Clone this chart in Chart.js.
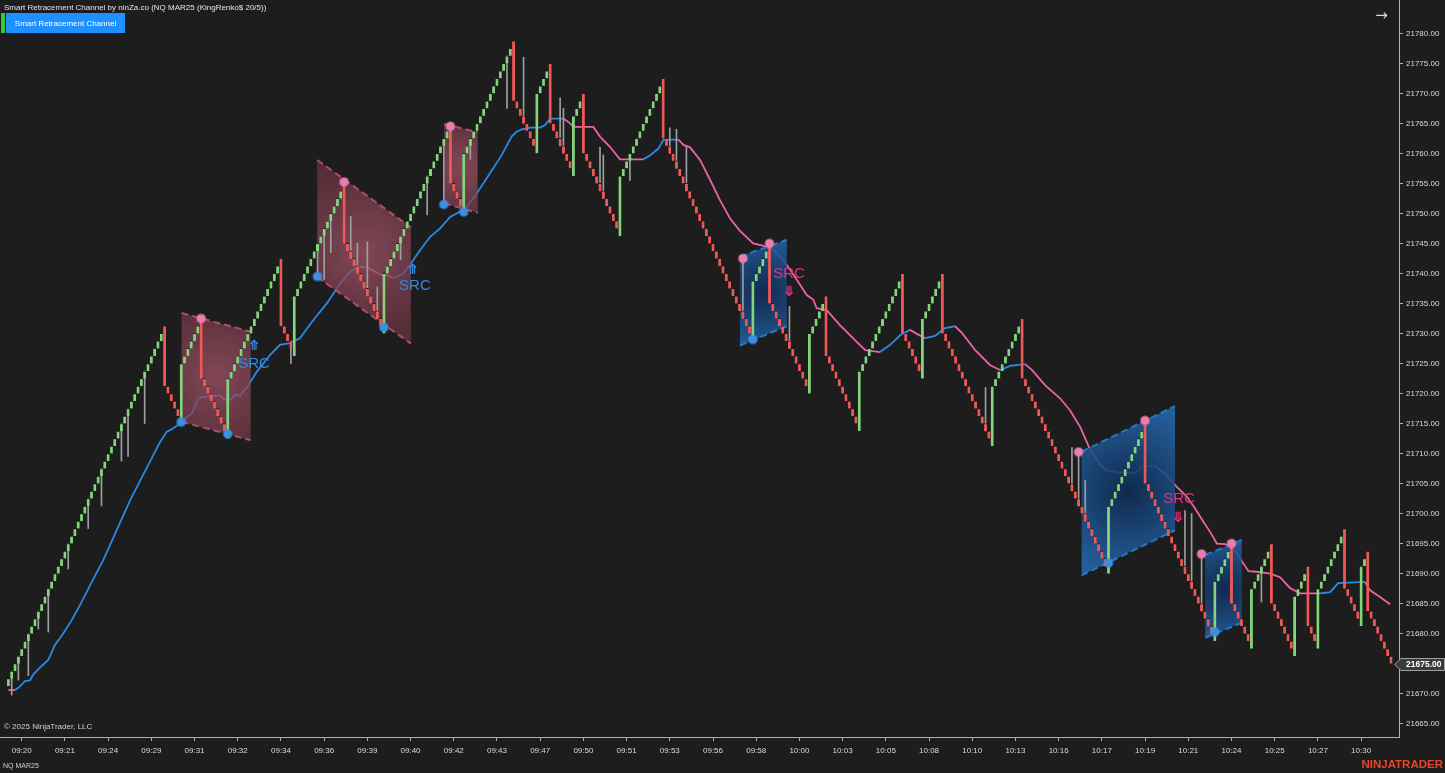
<!DOCTYPE html>
<html>
<head>
<meta charset="utf-8">
<title>Smart Retracement Channel</title>
<script src="https://cdn.jsdelivr.net/npm/chart.js@4.4.1/dist/chart.umd.min.js"></script>
<style>
html,body{margin:0;padding:0;background:#1d1d1d;overflow:hidden;}
canvas{display:block;}
</style>
</head>
<body>
<canvas id="chart" width="1445" height="773"></canvas>
<script>
// ---------------- DATA ----------------
const timeLabels = ['09:20','09:21','09:24','09:29','09:31','09:32','09:34','09:36','09:39','09:40','09:42','09:43','09:47','09:50','09:51','09:53','09:56','09:58','10:00','10:03','10:05','10:08','10:10','10:13','10:16','10:17','10:19','10:21','10:24','10:25','10:27','10:30'];
const labelBars = [4,17,30,43,56,69,82,95,108,121,134,147,160,173,186,199,212,225,238,251,264,277,290,303,316,329,342,355,368,381,394,407];
const priceTicks = [21665,21670,21675,21680,21685,21690,21695,21700,21705,21710,21715,21720,21725,21730,21735,21740,21745,21750,21755,21760,21765,21770,21775,21780];

// Renko bars (index = bar number)
const opens = [
21671.25,21672.5,21673.75,21675,21676.25,21677.5,21678.75,21680,21681.25,21682.5,21683.75,21685,21686.25,21687.5,21688.75,21690,21691.25,21692.5,21693.75,21695,21696.25,21697.5,21698.75,21700,21701.25,21702.5,21703.75,21705,21706.25,21707.5,21708.75,21710,21711.25,21712.5,21713.75,21715,21716.25,21717.5,21718.75,21720,21721.25,21722.5,21723.75,21725,21726.25,21727.5,21728.75,
21731.25,21721.25,21720,21718.75,21717.5,21715,21725,21726.25,21727.5,21728.75,21730,21732.5,21722.5,21721.25,21720,21718.75,21717.5,21716.25,21715,21712.5,
21722.5,21723.75,21725,21726.25,21727.5,21728.75,21730,21731.25,21732.5,21733.75,21735,21736.25,21737.5,21738.75,21740,21742.5,21731.25,21730,21728.75,21726.25,
21736.25,21737.5,21738.75,21740,21741.25,21742.5,21743.75,21745,21746.25,21747.5,21748.75,21750,21751.25,21752.5,21755,21745,21743.75,21742.5,21741.25,21740,21738.75,21737.5,21736.25,21735,21733.75,21732.5,21730,
21740,21741.25,21742.5,21743.75,21745,21746.25,21747.5,21748.75,21750,21751.25,21752.5,21753.75,21755,21756.25,21757.5,21758.75,21760,21761.25,21762.5,21765,21755,21753.75,21752.5,21750,
21760,21761.25,21762.5,21763.75,21765,21766.25,21767.5,21768.75,21770,21771.25,21772.5,21773.75,21775,21776.25,21778.75,21768.75,21767.5,21766.25,21765,21763.75,21762.5,21760,21770,21771.25,21772.5,21775,
21765,21763.75,21762.5,21761.25,21760,21758.75,21756.25,21766.25,21767.5,21770,21760,21758.75,21757.5,21756.25,21755,21753.75,21752.5,21751.25,21750,21748.75,21746.25,
21756.25,21757.5,21758.75,21760,21761.25,21762.5,21763.75,21765,21766.25,21767.5,21768.75,21770,21772.5,
21762.5,21761.25,21760,21758.75,21757.5,21756.25,21755,21753.75,21752.5,21751.25,21750,21748.75,21747.5,21746.25,21745,21743.75,21742.5,21741.25,21740,21738.75,21737.5,21736.25,21735,21733.75,21732.5,21731.25,21728.75,
21738.75,21740,21741.25,21742.5,21745,21735,21733.75,21732.5,21731.25,21730,21728.75,21727.5,21726.25,21725,21723.75,21722.5,21720,
21730,21731.25,21732.5,21733.75,21736.25,21726.25,21725,21723.75,21722.5,21721.25,21720,21718.75,21717.5,21716.25,21713.75,
21723.75,21725,21726.25,21727.5,21728.75,21730,21731.25,21732.5,21733.75,21735,21736.25,21737.5,21740,21730,21728.75,21727.5,21726.25,21725,21722.5,
21732.5,21733.75,21735,21736.25,21737.5,21740,21730,21728.75,21727.5,21726.25,21725,21723.75,21722.5,21721.25,21720,21718.75,21717.5,21716.25,21715,21713.75,21711.25,
21721.25,21722.5,21723.75,21725,21726.25,21727.5,21728.75,21730,21732.5,
21722.5,21721.25,21720,21718.75,21717.5,21716.25,21715,21713.75,21712.5,21711.25,21710,21708.75,21707.5,21706.25,21705,21703.75,21702.5,21701.25,21700,21698.75,21697.5,21696.25,21695,21693.75,21692.5,21690,
21701.25,21702.5,21703.75,21705,21706.25,21707.5,21708.75,21710,21711.25,21712.5,21715,
21705,21703.75,21702.5,21701.25,21700,21698.75,21697.5,21696.25,21695,21693.75,21692.5,21691.25,21690,21688.75,21687.5,21686.25,21685,21683.75,21682.5,21681.25,21678.75,
21688.75,21690,21691.25,21692.5,21695,21685,21683.75,21682.5,21681.25,21680,21677.5,
21687.5,21688.75,21690,21691.25,21692.5,21695,21685,21683.75,21682.5,21681.25,21680,21678.75,21676.25,
21686.25,21687.5,21688.75,21691.25,21681.25,21680,21677.5,21687.5,21688.75,21690,21691.25,21692.5,21693.75,21695,21697.5,
21687.5,21686.25,21685,21683.75,21681.25,21691.25,21693.75,21683.75,21682.5,21681.25,21680,21678.75,21677.5,21676.25
];
const closes = [
21672.5,21673.75,21675,21676.25,21677.5,21678.75,21680,21681.25,21682.5,21683.75,21685,21686.25,21687.5,21688.75,21690,21691.25,21692.5,21693.75,21695,21696.25,21697.5,21698.75,21700,21701.25,21702.5,21703.75,21705,21706.25,21707.5,21708.75,21710,21711.25,21712.5,21713.75,21715,21716.25,21717.5,21718.75,21720,21721.25,21722.5,21723.75,21725,21726.25,21727.5,21728.75,21730,
21721.25,21720,21718.75,21717.5,21716.25,21725,21726.25,21727.5,21728.75,21730,21731.25,21722.5,21721.25,21720,21718.75,21717.5,21716.25,21715,21713.75,21722.5,
21723.75,21725,21726.25,21727.5,21728.75,21730,21731.25,21732.5,21733.75,21735,21736.25,21737.5,21738.75,21740,21741.25,21731.25,21730,21728.75,21727.5,21736.25,
21737.5,21738.75,21740,21741.25,21742.5,21743.75,21745,21746.25,21747.5,21748.75,21750,21751.25,21752.5,21753.75,21745,21743.75,21742.5,21741.25,21740,21738.75,21737.5,21736.25,21735,21733.75,21732.5,21731.25,21740,
21741.25,21742.5,21743.75,21745,21746.25,21747.5,21748.75,21750,21751.25,21752.5,21753.75,21755,21756.25,21757.5,21758.75,21760,21761.25,21762.5,21763.75,21755,21753.75,21752.5,21751.25,21760,
21761.25,21762.5,21763.75,21765,21766.25,21767.5,21768.75,21770,21771.25,21772.5,21773.75,21775,21776.25,21777.5,21768.75,21767.5,21766.25,21765,21763.75,21762.5,21761.25,21770,21771.25,21772.5,21773.75,21765,
21763.75,21762.5,21761.25,21760,21758.75,21757.5,21766.25,21767.5,21768.75,21760,21758.75,21757.5,21756.25,21755,21753.75,21752.5,21751.25,21750,21748.75,21747.5,21756.25,
21757.5,21758.75,21760,21761.25,21762.5,21763.75,21765,21766.25,21767.5,21768.75,21770,21771.25,21762.5,
21761.25,21760,21758.75,21757.5,21756.25,21755,21753.75,21752.5,21751.25,21750,21748.75,21747.5,21746.25,21745,21743.75,21742.5,21741.25,21740,21738.75,21737.5,21736.25,21735,21733.75,21732.5,21731.25,21730,21738.75,
21740,21741.25,21742.5,21743.75,21735,21733.75,21732.5,21731.25,21730,21728.75,21727.5,21726.25,21725,21723.75,21722.5,21721.25,21730,
21731.25,21732.5,21733.75,21735,21726.25,21725,21723.75,21722.5,21721.25,21720,21718.75,21717.5,21716.25,21715,21723.75,
21725,21726.25,21727.5,21728.75,21730,21731.25,21732.5,21733.75,21735,21736.25,21737.5,21738.75,21730,21728.75,21727.5,21726.25,21725,21723.75,21732.5,
21733.75,21735,21736.25,21737.5,21738.75,21730,21728.75,21727.5,21726.25,21725,21723.75,21722.5,21721.25,21720,21718.75,21717.5,21716.25,21715,21713.75,21712.5,21721.25,
21722.5,21723.75,21725,21726.25,21727.5,21728.75,21730,21731.25,21722.5,
21721.25,21720,21718.75,21717.5,21716.25,21715,21713.75,21712.5,21711.25,21710,21708.75,21707.5,21706.25,21705,21703.75,21702.5,21701.25,21700,21698.75,21697.5,21696.25,21695,21693.75,21692.5,21691.25,21701.25,
21702.5,21703.75,21705,21706.25,21707.5,21708.75,21710,21711.25,21712.5,21713.75,21705,
21703.75,21702.5,21701.25,21700,21698.75,21697.5,21696.25,21695,21693.75,21692.5,21691.25,21690,21688.75,21687.5,21686.25,21685,21683.75,21682.5,21681.25,21680,21688.75,
21690,21691.25,21692.5,21693.75,21685,21683.75,21682.5,21681.25,21680,21678.75,21687.5,
21688.75,21690,21691.25,21692.5,21693.75,21685,21683.75,21682.5,21681.25,21680,21678.75,21677.5,21686.25,
21687.5,21688.75,21690,21681.25,21680,21678.75,21687.5,21688.75,21690,21691.25,21692.5,21693.75,21695,21696.25,21687.5,
21686.25,21685,21683.75,21682.5,21691.25,21692.5,21683.75,21682.5,21681.25,21680,21678.75,21677.5,21676.25,21675
];

// visible wick extremes (bar index, price reached by the wick)
const wickIdx = [1,3,6,9,12,18,24,28,34,36,41,85,93,95,97,103,105,108,111,118,126,131,139,150,155,166,167,178,179,187,199,201,204,221,235,294,320,322,324,354,356,359,377];
const wickVal = [21669.75,21672.25,21673,21680.75,21680.25,21690.75,21697.5,21701.25,21708.75,21709.5,21715,21725,21739.5,21739,21743.5,21749.5,21745,21745.25,21737.75,21742.25,21749.75,21751.5,21759,21767.5,21776,21769.25,21767.5,21761,21759.75,21755.5,21764.25,21764,21761,21742.5,21734.5,21721,21711,21710.25,21705.5,21700.5,21700,21693.25,21685.25];

// trailing line (bar position, value)
const maIdx = [0,2,3.5,5,6.5,7.5,10,12,14,16.5,
19,21.5,25.1,28.5,36.6,45.6,47.6,49.6,51.6,53.1,
55.2,57.1,58.2,63.7,64.7,66.7,68.2,69.7,71.9,74.7,
78.7,81.7,84.7,87.7,91.7,95.8,99.8,102.8,105.3,107.8,
110.3,112.3,114,115.8,118.8,120.8,123.9,126.9,129.9,132.9,
135.9,137.9,140.9,144.9,148.4,151.4,152.9,154.5,156.9,160,
161.5,163,167,169,170,176,178,181,184,191,
193.1,195.6,197.1,201.6,203.1,205.1,208.1,211.1,214.1,217.1,
220.1,224.1,227.2,230.2,232.7,235.2,238.2,240.2,242.2,243.2,
246.2,250.2,254.7,257.8,262.3,265.3,268.3,271.3,272.8,275.8,
278.8,281.8,284.8,286.9,290.9,295.4,298.4,301.4,305.9,308,
311.9,316.4,319.4,322.5,325.5,328.5,330.5,333.5,339,340,
341,345,346,348.5,351.6,354.6,357.1,359.6,361.6,363.6,
366.1,368.6,370.6,373.1,375.6,379.6,382.6,385.6,388.6,394.7,
397.7,400.1,408.2,409.7,412.7,415.7];
const maVal = [21670.6,21670.6,21671.2,21672.1,21672.2,21673.2,21674.6,21675.6,21678.1,21680,
21682.2,21684.7,21688.6,21692.2,21702.2,21711.9,21713.6,21714.2,21715,21715.8,
21716.7,21719.2,21719.4,21719.7,21719,21719,21719.7,21719.7,21721.1,21723.6,
21726.4,21728.1,21728.4,21729.2,21732.2,21735,21738.3,21740.3,21741.1,21741,
21740.3,21739.7,21739.7,21739.2,21740,21741.4,21743.9,21746.1,21747.5,21749.4,
21750.3,21751.1,21753.3,21756.7,21759.7,21762.8,21763.6,21764,21764.3,21764.3,
21764.7,21765.8,21765.8,21765,21764.4,21764.4,21762.8,21761.1,21759,21759,
21759.7,21760.8,21762.3,21762.3,21761.4,21761,21758.9,21755.6,21752.2,21749.2,
21747.1,21745,21744.6,21743.9,21742.5,21740.6,21738.1,21736.4,21735.6,21734.2,
21733.9,21731.4,21728.9,21727.2,21726.9,21728.1,21729.7,21730.6,21730.1,21729.2,
21729.6,21730.9,21731.2,21730.1,21727.2,21724.7,21723.9,21724.6,21724.9,21723.9,
21721.4,21719.2,21717.2,21714.4,21710.6,21708.1,21707.2,21706.9,21706.7,21707.2,
21707.8,21707.9,21707.5,21706.4,21704.4,21702.8,21700.8,21698.6,21696.9,21695,
21694.9,21694.2,21692.5,21690.4,21690.3,21690,21689.4,21687.6,21686.7,21686.7,
21686.9,21688.4,21688.6,21687.2,21686.1,21684.9];

// swing points
const highDotIdx = [58,101,133,221,229,322,342,359,368];
const highDotVal = [21732.5,21755.25,21764.5,21742.5,21745,21710.25,21715.5,21693.25,21695];
const lowDotIdx = [52,66,93,113,131,137,224,331,363];
const lowDotVal = [21715.25,21713.25,21739.5,21731,21751.5,21750.25,21729,21691.75,21680.25];

// retracement channels (start bar, end bar, upper line start/end, lower line start/end)
const chKind = ['bear','bear','bear','bull','bull','bull'];
const chStart = [52.1,92.9,131.1,220.1,322.9,360.1];
const chEnd = [72.9,121.1,141.2,234.2,351.0,371.1];
const chTop0 = [21733.4,21758.9,21764.9,21742.8,21710.3,21693.1];
const chTop1 = [21730.3,21747.7,21763.5,21745.6,21717.9,21695.6];
const chBot0 = [21715.3,21739.4,21751.7,21728.0,21689.7,21679.3];
const chBot1 = [21712.2,21728.3,21750.1,21731.2,21697.2,21681.8];

// SRC signal labels
const sigKind = ['bull','bull','bear','bear'];
const sigIdx = [73.9,122.3,234.9,352.2];
const sigVal = [21725,21738.0,21740,21702.4];
const sigArrowIdx = [74,121.7,235,352];
const sigArrowVal = [21727.8,21740.5,21736.8,21699.2];

// ---------------- STYLE ----------------
const BG = '#1d1d1d';
const GREEN = '#84d47c';
const RED = '#f05858';
const WICK = '#9e9e9e';
const LINE_BLUE = '#2a8ae8';
const LINE_PINK = '#ec63a6';
const AXIS = '#b0b0b0';
const FONT = "'Liberation Sans', Arial, sans-serif";

const bodyData = closes.map((c, k) => ({ x: k, y: [opens[k], c] }));
const bodyColors = closes.map((c, k) => c > opens[k] ? GREEN : RED);
const wickData = wickIdx.map((k, j) => ({
  x: k,
  y: [Math.min(opens[k], closes[k], wickVal[j]), Math.max(opens[k], closes[k], wickVal[j])]
}));
const maData = maIdx.map((x, k) => ({ x: x, y: maVal[k] }));
const maColors = [];
(function () {
  let cur = LINE_PINK;
  for (let k = 0; k < maVal.length - 1; k++) {
    const d = maVal[k + 1] - maVal[k];
    if (d > 0) cur = LINE_BLUE; else if (d < 0) cur = LINE_PINK;
    maColors.push(cur);
  }
})();
const highDots = highDotIdx.map((x, k) => ({ x: x, y: highDotVal[k] }));
const lowDots = lowDotIdx.map((x, k) => ({ x: x, y: lowDotVal[k] }));

const overlay = {
  id: 'overlay',
  beforeDatasetDraw(chart, args) {
    if (args.index !== 1) return;
    const { ctx, chartArea: a, scales: { x, y } } = chart;
    ctx.save();
    ctx.beginPath();
    ctx.rect(a.left, a.top, a.right - a.left, a.bottom - a.top);
    ctx.clip();
    for (let k = 0; k < chStart.length; k++) {
      const x0 = x.getPixelForValue(chStart[k]), x1 = x.getPixelForValue(chEnd[k]);
      const t0 = y.getPixelForValue(chTop0[k]), t1 = y.getPixelForValue(chTop1[k]);
      const b0 = y.getPixelForValue(chBot0[k]), b1 = y.getPixelForValue(chBot1[k]);
      const bull = chKind[k] === 'bull';
      const cx = (x0 + x1) / 2, cy = (t0 + t1 + b0 + b1) / 4;
      const r = Math.max(x1 - x0, Math.abs(b0 - t0)) * 0.72;
      const g = ctx.createRadialGradient(cx, cy, 0, cx, cy, r);
      if (bull) {
        g.addColorStop(0, 'rgba(16,44,84,0.88)');
        g.addColorStop(1, 'rgba(38,108,180,0.85)');
      } else {
        g.addColorStop(0, 'rgba(160,84,104,0.78)');
        g.addColorStop(1, 'rgba(112,54,68,0.70)');
      }
      ctx.beginPath();
      ctx.moveTo(x0, t0); ctx.lineTo(x1, t1); ctx.lineTo(x1, b1); ctx.lineTo(x0, b0);
      ctx.closePath();
      ctx.fillStyle = g;
      ctx.fill();
      ctx.setLineDash([7, 4]);
      ctx.lineWidth = 2;
      ctx.strokeStyle = bull ? 'rgba(40,122,205,0.95)' : 'rgba(185,82,112,0.9)';
      ctx.beginPath(); ctx.moveTo(x0, t0); ctx.lineTo(x1, t1); ctx.stroke();
      ctx.beginPath(); ctx.moveTo(x0, b0); ctx.lineTo(x1, b1); ctx.stroke();
    }
    ctx.restore();
  },
  afterDatasetsDraw(chart) {
    const { ctx, scales: { x, y } } = chart;
    ctx.save();
    for (let k = 0; k < sigIdx.length; k++) {
      const bull = sigKind[k] === 'bull';
      const col = bull ? '#2c8ce8' : '#e8307f';
      ctx.fillStyle = col;
      ctx.textAlign = 'center';
      ctx.textBaseline = 'middle';
      ctx.font = "15px " + FONT;
      ctx.fillText('SRC', x.getPixelForValue(sigIdx[k]), y.getPixelForValue(sigVal[k]));
      ctx.font = "bold 14px 'DejaVu Sans', sans-serif";
      ctx.fillText(bull ? '\u290A' : '\u290B', x.getPixelForValue(sigArrowIdx[k]), y.getPixelForValue(sigArrowVal[k]));
    }
    ctx.restore();
  },
  afterDraw(chart) {
    const { ctx, scales: { y } } = chart;
    ctx.save();
    ctx.textBaseline = 'middle';
    ctx.textAlign = 'left';
    ctx.font = "8px " + FONT;
    ctx.fillStyle = '#e4e4e4';
    ctx.fillText('Smart Retracement Channel by ninZa.co (NQ MAR25 (KingRenko$ 20/5))', 4, 8);
    ctx.fillStyle = '#33cc33';
    ctx.fillRect(1, 13, 4, 20);
    ctx.fillStyle = '#1e90ff';
    ctx.fillRect(6, 13, 119, 20);
    ctx.fillStyle = '#ffffff';
    ctx.textAlign = 'center';
    ctx.fillText('Smart Retracement Channel', 65.5, 23.5);
    ctx.textAlign = 'left';
    ctx.fillStyle = '#d0d0d0';
    ctx.fillText('\u00A9 2025 NinjaTrader, LLC', 4, 727);
    ctx.font = "7px " + FONT;
    ctx.fillText('NQ MAR25', 3, 766);
    ctx.font = "bold 11.5px " + FONT;
    ctx.fillStyle = '#e8462a';
    ctx.textAlign = 'right';
    ctx.fillText('NINJATRADER', 1443, 764.5);
    ctx.font = "15px 'DejaVu Sans', sans-serif";
    ctx.fillStyle = '#d8d8d8';
    ctx.textAlign = 'center';
    ctx.fillText('\u2192', 1381.5, 16);
    // last price marker
    const last = closes[closes.length - 1];
    const py = Math.round(y.getPixelForValue(last)) + 0.5;
    ctx.beginPath();
    ctx.moveTo(1394.5, py);
    ctx.lineTo(1401, py - 6);
    ctx.lineTo(1444.5, py - 6);
    ctx.lineTo(1444.5, py + 6);
    ctx.lineTo(1401, py + 6);
    ctx.closePath();
    ctx.fillStyle = '#3b3b3b';
    ctx.fill();
    ctx.strokeStyle = '#a0a0a0';
    ctx.lineWidth = 1;
    ctx.stroke();
    ctx.fillStyle = '#ffffff';
    ctx.textAlign = 'left';
    ctx.font = "bold 8.5px " + FONT;
    ctx.fillText(last.toFixed(2), 1406, py);
    ctx.restore();
  }
};

function noPad(s) { s.paddingLeft = 0; s.paddingRight = 0; s.paddingTop = 0; s.paddingBottom = 0; }

Chart.defaults.font.family = FONT;
new Chart(document.getElementById('chart'), {
  type: 'bar',
  data: {
    datasets: [
      { type: 'line', label: 'Trail', data: maData, order: 5, borderColor: LINE_BLUE, borderWidth: 1.8,
        pointRadius: 0, tension: 0, segment: { borderColor: c => maColors[c.p0DataIndex] } },
      { type: 'bar', label: 'Wicks', data: wickData, order: 4, backgroundColor: WICK, barThickness: 1, grouped: false },
      { type: 'bar', label: 'Bars', data: bodyData, order: 3, backgroundColor: bodyColors, barThickness: 2.8, grouped: false,
        borderColor: BG, borderWidth: { top: 1, bottom: 0, left: 0, right: 0 }, borderSkipped: false },
      { type: 'scatter', label: 'Swing highs', data: highDots, order: 1, pointRadius: 4, pointBackgroundColor: '#e97cb0',
        pointBorderColor: 'rgba(240,130,185,0.45)', pointBorderWidth: 2.5 },
      { type: 'scatter', label: 'Swing lows', data: lowDots, order: 1, pointRadius: 4, pointBackgroundColor: '#3a90e2',
        pointBorderColor: 'rgba(60,145,230,0.45)', pointBorderWidth: 2.5 }
    ]
  },
  options: {
    responsive: false,
    animation: false,
    events: [],
    layout: { padding: 0, autoPadding: false },
    plugins: { legend: { display: false }, tooltip: { enabled: false }, title: { display: false } },
    scales: {
      x: {
        type: 'linear', min: -2.53, max: 418.4, bounds: 'data', offset: false,
        grid: { display: true, drawOnChartArea: false, drawTicks: true, tickLength: 4, color: AXIS, offset: false },
        border: { display: true, color: AXIS, width: 1 },
        ticks: { autoSkip: false, maxRotation: 0, color: '#dadada', padding: 5, font: { size: 8, family: FONT },
          callback: v => { const k = labelBars.indexOf(v); return k >= 0 ? timeLabels[k] : ''; } },
        afterBuildTicks: s => { s.ticks = labelBars.map(v => ({ value: v })); },
        afterFit: s => { s.height = 36; noPad(s); }
      },
      y: {
        type: 'linear', position: 'right', min: 21662.77, max: 21785.55, bounds: 'data',
        grid: { display: true, drawOnChartArea: false, drawTicks: true, tickLength: 4, color: AXIS },
        border: { display: true, color: AXIS, width: 1 },
        ticks: { color: '#dadada', padding: 3, font: { size: 8, family: FONT }, callback: v => Number(v).toFixed(2) },
        afterBuildTicks: s => { s.ticks = priceTicks.map(v => ({ value: v })); },
        afterFit: s => { s.width = 46; noPad(s); }
      }
    }
  },
  plugins: [overlay]
});
</script>
</body>
</html>
